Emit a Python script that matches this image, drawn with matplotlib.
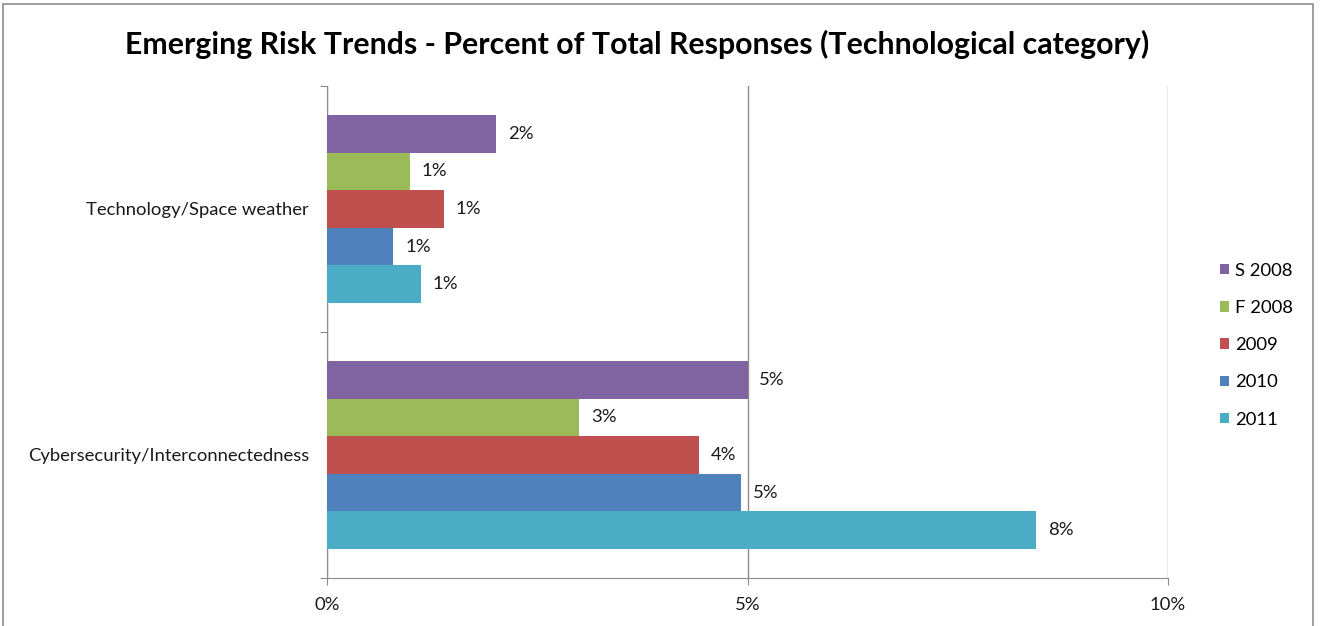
import matplotlib
matplotlib.use("Agg")
import matplotlib.pyplot as plt
from matplotlib.patches import Rectangle, Patch
from matplotlib.ticker import FuncFormatter
import numpy as np

plt.rcParams['font.family'] = ['Lato', 'DejaVu Sans']

categories = ["Cybersecurity/Interconnectedness", "Technology/Space weather"]
series = ["S 2008", "F 2008", "2009", "2010", "2011"]
values = {
    "S 2008": [5.0, 2.01],
    "F 2008": [3.0, 0.99],
    "2009":   [4.42, 1.39],
    "2010":   [4.92, 0.79],
    "2011":   [8.43, 1.12],
}
colors = ["#8064A2", "#9BBB59", "#C0504D", "#4F81BD", "#4BACC6"]
x_ticks = [0, 5, 10]

W, H = 1320, 626
fig = plt.figure(figsize=(W / 100, H / 100), dpi=100)
ax = fig.add_axes([327 / W, 1 - 578 / H, (1168 - 327) / W, (578 - 86) / H])

# outer chart frame
fig.patches.append(Rectangle((3 / W, -0.01), (1313 - 3) / W, 1 - 4 / H + 0.01,
                             transform=fig.transFigure, fill=False,
                             edgecolor="#8c8c8c", linewidth=1.2))

fs = 13.3
h = 0.153
y = np.arange(len(categories))
for i, (name, col) in enumerate(zip(series, colors)):
    offs = (2 - i) * h
    vals = values[name]
    ax.barh(y + offs, vals, height=h, color=col, zorder=3)
    for yy, v in zip(y + offs, vals):
        ax.text(v + 0.14, yy, f"{v:.0f}%", va="center", ha="left",
                fontsize=fs, color="#1a1a1a", zorder=4)

ax.set_xlim(0, 10)
ax.set_ylim(-0.5, 1.5)
ax.set_xticks(x_ticks)
ax.xaxis.set_major_formatter(FuncFormatter(lambda v, p: f"{v:.0f}%"))
ax.grid(axis="x", color="#8c8c8c", linewidth=1.0, zorder=0)
for s in ["top", "right"]:
    ax.spines[s].set_visible(False)
for s in ["left", "bottom"]:
    ax.spines[s].set_color("#8c8c8c")
ax.tick_params(axis="x", length=5, color="#8c8c8c", labelsize=fs,
               labelcolor="#1a1a1a", pad=9)
ax.set_yticks([-0.5, 0.5, 1.5])
ax.set_yticklabels([])
ax.tick_params(axis="y", length=5, color="#8c8c8c")
ax.set_yticks(y, minor=True)
ax.set_yticklabels(categories, minor=True, fontsize=fs, color="#1a1a1a")
ax.tick_params(axis="y", which="minor", length=0, pad=13)

fig.text(637 / W, 1 - 44 / H,
         "Emerging Risk Trends - Percent of Total Responses (Technological category)",
         ha="center", va="center", fontsize=21.8, fontweight="bold", color="black")

handles = [Patch(facecolor=c, label=n) for n, c in zip(series, colors)]
fig.legend(handles=handles, loc="upper left", bbox_to_anchor=(1203 / W, 1 - 246 / H),
           frameon=False, fontsize=fs, handlelength=0.5, handleheight=0.5,
           handletextpad=0.35, labelspacing=1.15)

fig.savefig("out.png", dpi=100)
